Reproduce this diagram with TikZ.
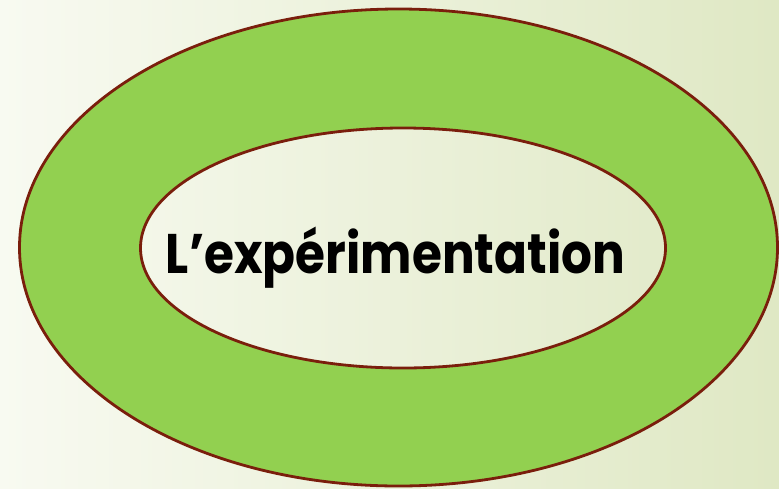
\documentclass[tikz,border=0pt]{standalone}
\usepackage{fontspec}
\setmainfont{Poppins}
\usetikzlibrary{shapes.geometric}
\definecolor{ringgreen}{HTML}{92D050}
\definecolor{rimred}{HTML}{7A1E0C}
\definecolor{bglight}{HTML}{F8FAF1}
\definecolor{bgdark}{HTML}{DFE8C4}
\tikzset{rim/.style={draw=rimred,line width=2.8pt}}
\begin{document}
\begin{tikzpicture}[x=1pt,y=-1pt]
\useasboundingbox (0,0) rectangle (779,488);
\shade[shading angle=-60,left color=bglight,right color=bgdark] (0,0) rectangle (779,488);
\fill[ringgreen,even odd rule] (398.5,247.5) ellipse [x radius=379,y radius=238.5]
  (403,248) ellipse [x radius=262.5,y radius=120];
\draw[rim] (398.5,247.5) ellipse [x radius=379,y radius=238.5];
\draw[rim] (403,248) ellipse [x radius=262.5,y radius=120];
\node[anchor=base,inner sep=0pt] (title) at (395.5,273) {\resizebox{459pt}{!}{\scalebox{0.87}[1]{\fontsize{56}{62}\selectfont\bfseries L’expérimentation}}};
\end{tikzpicture}
\end{document}
